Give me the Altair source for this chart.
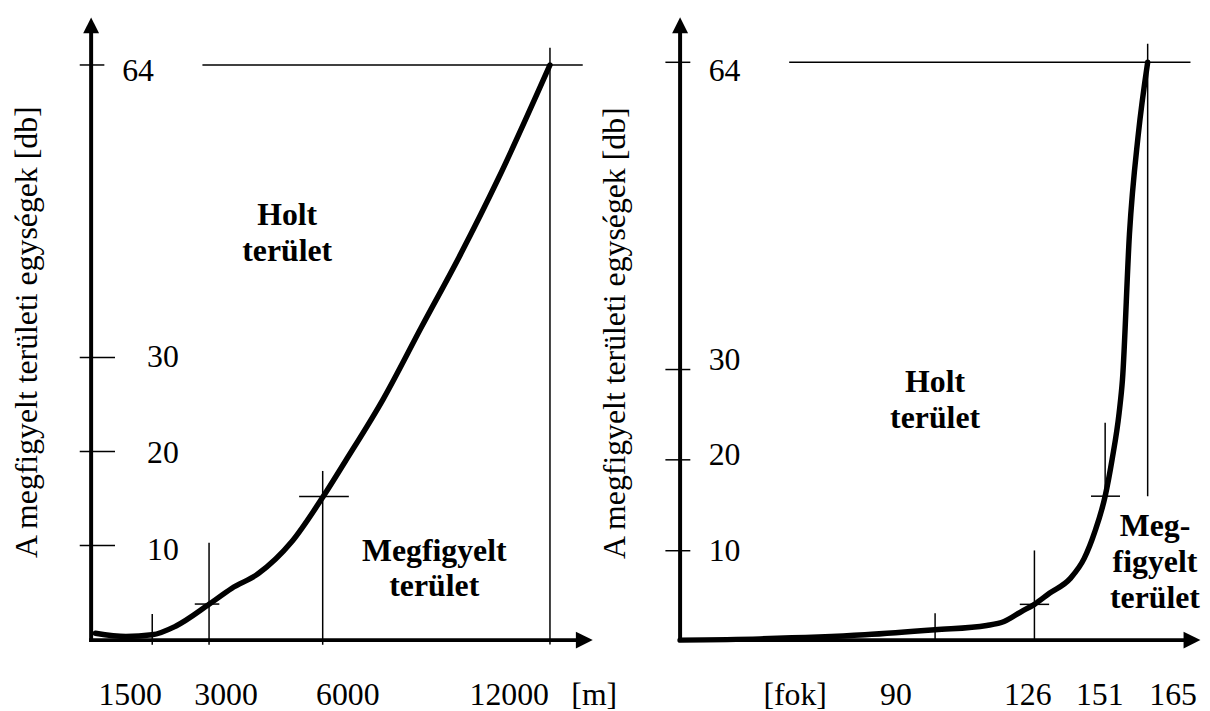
import altair as alt
import pandas as pd

FONT = "Liberation Serif, Times New Roman, Tinos, Nimbus Roman, DejaVu Serif, serif"
FS = 32

# ---------------- data: left panel (distance, m) ----------------
left_curve_x = [0, 805, 1495, 2117, 3009, 3594, 4302, 5176, 6013, 6590, 7602, 8615, 9628, 10637, 12000]
left_curve_y = [0.73, 0.39, 0.56, 1.47, 3.81, 5.46, 7.03, 10.36, 15.2, 18.9, 25.6, 33.6, 41.9, 50.8, 64]
left_x_ticks = [1500, 3000, 6000, 12000]
left_x_labels = ["1500", "3000", "6000", "12000", "[m]"]

# ---------------- data: right panel (angle, fok) ----------------
right_curve_x = [0, 28.2, 65.2, 90, 108.7, 115.0, 121.3, 126, 131.3, 138.7, 143.6, 147.3, 151,
                 153.3, 155.6, 156.7, 159.0, 161.9, 165]
right_curve_y = [0, 0.14, 0.59, 1.15, 1.64, 2.08, 3.2, 4.0, 5.24, 6.91, 9.14, 12.04, 16.0,
                 20.06, 25.19, 28.86, 44.98, 55.98, 64]
right_x_ticks = [90, 126, 151, 165]
right_x_labels = ["[fok]", "90", "126", "151", "165"]

y_ticks = [64, 30, 20, 10]
y_labels = ["64", "30", "20", "10"]
y_title = "A megfigyelt területi egységek [db]"
dead_label = ["Holt", "terület"]
left_obs_label = ["Megfigyelt", "terület"]
right_obs_label = ["Meg-", "figyelt", "terület"]

# ---------------- layout (in data units of each panel) ----------------
L = dict(
    xdom=[0, 12000], xrng=[88, 545.6],
    ydom=[0, 10, 20, 30, 64], yrng=[634, 538.7, 444, 349.5, 55],
    axis_x=-113, axis_x_start=-165, axis_x_end=12907, axis_y_bottom=-0.21, axis_y_top=68.6,
    tick_x=[(-414, 236), (-414, 517), (-414, 517), (-414, 517)],
    lab_x=[708, 1364, 1364, 1364], lab_y=[63.31, 30.06, 19.84, 9.55],
    vt=[(-0.49, 2.76), (-0.49, 10.29), (-0.49, 17.92), (-0.45, 66.0)],
    cross=[(2623, 3271, 3.81), (5378, 6690, 15.2)],
    top_line=(2825, 12865),
    xlab_x=[918, 3450, 6663, 10926, 13169], xlab_y=-6.82,
    dead_x=5063, dead_y=[45.35, 41.16],
    obs_x=8945, obs_y=[8.35, 4.65],
    title_x=-1548, title_y=32.94,
)
R = dict(
    xdom=[0, 90, 126, 151, 165], xrng=[676.6, 933.3, 1033.3, 1104.5, 1147.3],
    ydom=[0, 10, 20, 30, 64], yrng=[634, 544, 452.5, 361.6, 52.3],
    axis_x=0, axis_x_start=-0.7, axis_x_end=179.6, axis_y_bottom=-0.22, axis_y_top=68.1,
    tick_x=[(-5.19, 3.61)] * 4,
    lab_x=[10.1] * 4, lab_y=[63.04, 31.1, 20.55, 10.0],
    vt=[(0, 3.01), (0, 10.03), (16.0, 24.1), (15.98, 66.05)],
    cross=[(120.7, 131.2, 4.0), (146.0, 155.9, 16.0)],
    top_line=(38.5, 179.1),
    xlab_x=[40.6, 76.2, 123.6, 149.1, 173.4], xlab_y=-7.25,
    dead_x=90, dead_y=[27.5, 23.5],
    obs_x=167.4, obs_y=[11.67, 7.66, 3.57],
    title_x=-19.3, title_y=34.02,
)

UP = "M0,-1L1,1L-1,1Z"
RIGHT = "M1,0L-1,-1L-1,1Z"


def panel(P, cx, cy, xticks, xlabels, obs_label):
    xs = alt.Scale(domain=P["xdom"], range=P["xrng"], nice=False, zero=False)
    ys = alt.Scale(domain=P["ydom"], range=P["yrng"], nice=False, zero=False)

    def enc(**extra):
        d = dict(x=alt.X("x:Q", scale=xs, axis=None), y=alt.Y("y:Q", scale=ys, axis=None))
        d.update(extra)
        return d

    thin = []
    for t, (a, b) in zip(y_ticks, P["tick_x"]):
        thin.append(dict(x=a, x2=b, y=t, y2=t))
    for t, (a, b) in zip(xticks, P["vt"]):
        thin.append(dict(x=t, x2=t, y=a, y2=b))
    for a, b, yv in P["cross"]:
        thin.append(dict(x=a, x2=b, y=yv, y2=yv))
    thin.append(dict(x=P["top_line"][0], x2=P["top_line"][1], y=64, y2=64))
    thin_df = pd.DataFrame(thin)

    thick_df = pd.DataFrame([
        dict(x=P["axis_x_start"], x2=P["axis_x_end"], y=0, y2=0),
        dict(x=P["axis_x"], x2=P["axis_x"], y=P["axis_y_bottom"], y2=P["axis_y_top"]),
    ])

    rule_thin = alt.Chart(thin_df).mark_rule(color="black", strokeWidth=1.5).encode(
        **enc(x2="x2:Q", y2="y2:Q"))
    rule_thick = alt.Chart(thick_df).mark_rule(color="black", strokeWidth=4).encode(
        **enc(x2="x2:Q", y2="y2:Q"))

    curve = alt.Chart(pd.DataFrame({"x": cx, "y": cy})).mark_line(
        color="black", strokeWidth=5.5, interpolate="monotone", strokeCap="round",
        strokeJoin="round").encode(**enc())

    up = alt.Chart(pd.DataFrame({"x": [P["axis_x"]], "y": [P["axis_y_top"]]})).mark_point(
        shape=UP, filled=True, size=256, color="black", opacity=1, strokeWidth=0).encode(**enc())
    right = alt.Chart(pd.DataFrame({"x": [P["axis_x_end"]], "y": [0]})).mark_point(
        shape=RIGHT, filled=True, size=289, color="black", opacity=1, strokeWidth=0).encode(**enc())

    ylab = alt.Chart(pd.DataFrame({"x": P["lab_x"], "y": P["lab_y"], "t": y_labels})).mark_text(
        align="left", baseline="middle", font=FONT, fontSize=FS, color="black").encode(
        **enc(text="t:N"))
    xlab = alt.Chart(pd.DataFrame({"x": P["xlab_x"], "y": [P["xlab_y"]] * len(xlabels),
                                   "t": xlabels})).mark_text(
        align="center", baseline="alphabetic", font=FONT, fontSize=FS, color="black").encode(
        **enc(text="t:N"))

    dead = alt.Chart(pd.DataFrame({"x": [P["dead_x"]] * len(dead_label), "y": P["dead_y"],
                                   "t": dead_label})).mark_text(
        align="center", baseline="alphabetic", font=FONT, fontSize=FS, fontWeight="bold",
        color="black").encode(**enc(text="t:N"))
    obs = alt.Chart(pd.DataFrame({"x": [P["obs_x"]] * len(obs_label), "y": P["obs_y"],
                                  "t": obs_label})).mark_text(
        align="center", baseline="alphabetic", font=FONT, fontSize=FS, fontWeight="bold",
        color="black").encode(**enc(text="t:N"))

    title = alt.Chart(pd.DataFrame({"x": [P["title_x"]], "y": [P["title_y"]], "t": [y_title]})).mark_text(
        align="center", baseline="alphabetic", angle=270, font=FONT, fontSize=FS,
        color="black").encode(**enc(text="t:N"))

    return alt.layer(rule_thin, rule_thick, curve, up, right, ylab, xlab, dead, obs, title)


left = panel(L, left_curve_x, left_curve_y, left_x_ticks, left_x_labels, left_obs_label)
right = panel(R, right_curve_x, right_curve_y, right_x_ticks, right_x_labels, right_obs_label)

chart = alt.layer(left, right).resolve_scale(x="independent", y="independent").properties(
    width=1202, height=703, padding=0, background="white",
    autosize=alt.AutoSizeParams(type="none"),
).configure_view(stroke=None)

chart.save("out.html", embed_options={"renderer": "svg", "actions": False})
